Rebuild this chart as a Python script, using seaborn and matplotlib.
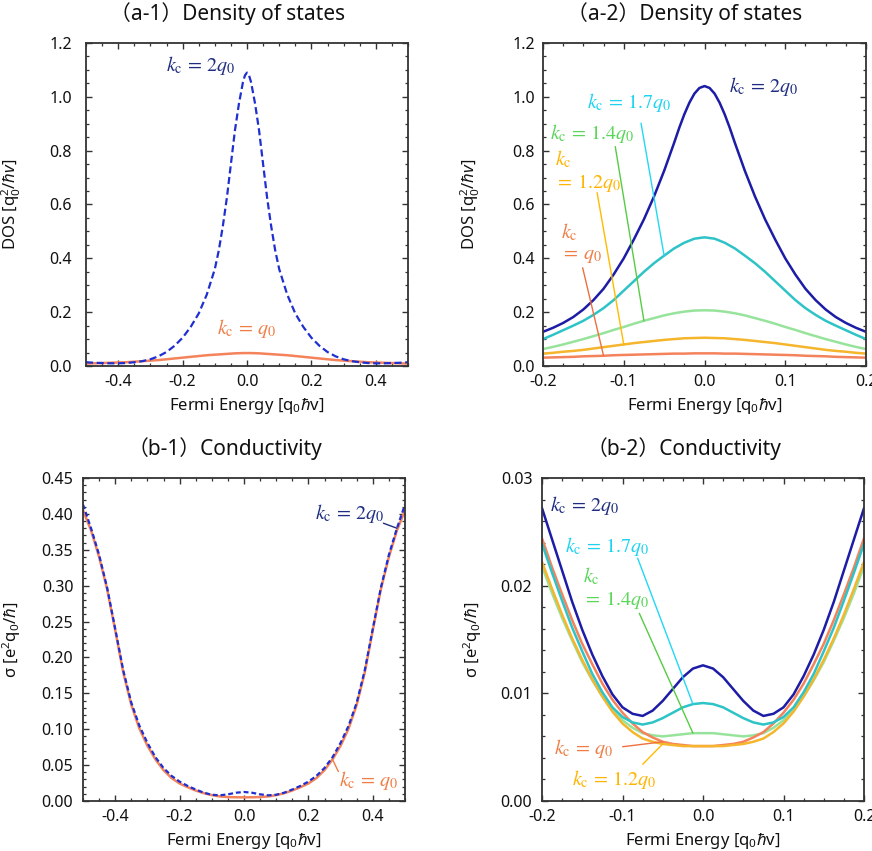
import matplotlib
matplotlib.use("Agg")
import matplotlib.pyplot as plt
from matplotlib.ticker import MultipleLocator, FormatStrFormatter
import numpy as np
import pandas as pd
import seaborn as sns

# ---------------- data ----------------
# (a-1) Density of states, wide range
E_A1 = [-0.5, -0.475, -0.45, -0.425, -0.4, -0.375, -0.35, -0.325, -0.3, -0.275,
        -0.25, -0.225, -0.2, -0.175, -0.15, -0.125, -0.1, -0.0875, -0.075, -0.0625,
        -0.05, -0.0375, -0.025, -0.0125, -0.00625, 0.0, 0.00625,
        0.0125, 0.025, 0.0375, 0.05, 0.0625, 0.075, 0.0875, 0.1, 0.125, 0.15,
        0.175, 0.2, 0.225, 0.25, 0.275, 0.3, 0.325, 0.35, 0.375, 0.4,
        0.425, 0.45, 0.475, 0.5]
DOS_A1_KC2 = [0.014, 0.012, 0.011, 0.010, 0.010, 0.011, 0.014, 0.018, 0.025, 0.036,
              0.052, 0.075, 0.105, 0.145, 0.195, 0.265, 0.36, 0.43, 0.52, 0.625,
              0.75, 0.875, 0.975, 1.055, 1.080, 1.09, 1.080,
              1.055, 0.975, 0.875, 0.75, 0.625, 0.52, 0.43, 0.36, 0.265, 0.195,
              0.145, 0.105, 0.075, 0.052, 0.036, 0.025, 0.018, 0.014, 0.011, 0.010,
              0.010, 0.011, 0.012, 0.014]
DOS_A1_KC1 = [0.009, 0.010, 0.011, 0.012, 0.013, 0.014, 0.016, 0.018, 0.020, 0.022,
              0.025, 0.028, 0.031, 0.034, 0.037, 0.040, 0.042, 0.043, 0.044, 0.045,
              0.046, 0.047, 0.0475, 0.048, 0.048, 0.048, 0.048,
              0.048, 0.0475, 0.047, 0.046, 0.045, 0.044, 0.043, 0.042, 0.040, 0.037,
              0.034, 0.031, 0.028, 0.025, 0.022, 0.020, 0.018, 0.016, 0.014, 0.013,
              0.012, 0.011, 0.010, 0.009]

# (a-2) Density of states, narrow range
E_A2 = [-0.2, -0.1875, -0.175, -0.1625, -0.15, -0.1375, -0.125, -0.1125, -0.1, -0.0875,
        -0.075, -0.0625, -0.05, -0.0375, -0.025, -0.0125, 0.0,
        0.0125, 0.025, 0.0375, 0.05, 0.0625, 0.075, 0.0875, 0.1, 0.1125,
        0.125, 0.1375, 0.15, 0.1625, 0.175, 0.1875, 0.2]
E_A2_KC20 = [-0.2, -0.1875, -0.175, -0.1625, -0.15, -0.1375, -0.125, -0.1125, -0.1, -0.0875,
             -0.075, -0.0625, -0.05, -0.0375, -0.03125, -0.025, -0.01875, -0.0125, -0.00625, 0.0,
             0.00625, 0.0125, 0.01875, 0.025, 0.03125, 0.0375, 0.05, 0.0625, 0.075, 0.0875,
             0.1, 0.1125, 0.125, 0.1375, 0.15, 0.1625, 0.175, 0.1875, 0.2]
DOS_KC20 = [0.127, 0.142, 0.160, 0.182, 0.210, 0.245, 0.287, 0.340, 0.400, 0.470,
            0.545, 0.630, 0.725, 0.830, 0.885, 0.935, 0.978, 1.012, 1.033, 1.040,
            1.033, 1.012, 0.978, 0.935, 0.885, 0.830, 0.725, 0.630, 0.545, 0.470,
            0.400, 0.340, 0.287, 0.245, 0.210, 0.182, 0.160, 0.142, 0.127]
DOS_KC17 = [0.100, 0.116, 0.133, 0.150, 0.168, 0.190, 0.215, 0.245, 0.280, 0.315,
            0.350, 0.382, 0.410, 0.437, 0.458, 0.473, 0.478,
            0.473, 0.458, 0.437, 0.410, 0.382, 0.350, 0.315, 0.280, 0.245,
            0.215, 0.190, 0.168, 0.150, 0.133, 0.116, 0.100]
DOS_KC14 = [0.063, 0.071, 0.080, 0.090, 0.100, 0.111, 0.122, 0.134, 0.145, 0.157,
            0.168, 0.178, 0.188, 0.196, 0.202, 0.206, 0.207,
            0.206, 0.202, 0.196, 0.188, 0.178, 0.168, 0.157, 0.145, 0.134,
            0.122, 0.111, 0.100, 0.090, 0.080, 0.071, 0.063]
DOS_KC12 = [0.046, 0.049, 0.053, 0.056, 0.060, 0.065, 0.070, 0.075, 0.080, 0.085,
            0.089, 0.093, 0.097, 0.100, 0.103, 0.104, 0.105,
            0.104, 0.103, 0.100, 0.097, 0.093, 0.089, 0.085, 0.080, 0.075,
            0.070, 0.065, 0.060, 0.056, 0.053, 0.049, 0.046]
DOS_KC10 = [0.031, 0.032, 0.033, 0.034, 0.036, 0.037, 0.038, 0.040, 0.041, 0.042,
            0.043, 0.044, 0.045, 0.046, 0.046, 0.047, 0.047,
            0.047, 0.046, 0.046, 0.045, 0.044, 0.043, 0.042, 0.041, 0.040,
            0.038, 0.037, 0.036, 0.034, 0.033, 0.032, 0.031]

# (b-1) Conductivity, wide range
E_B1 = [-0.5, -0.475, -0.45, -0.425, -0.4, -0.375, -0.35, -0.325, -0.3, -0.275,
        -0.25, -0.225, -0.2, -0.175, -0.15, -0.125, -0.1, -0.075, -0.05, -0.025, 0.0,
        0.025, 0.05, 0.075, 0.1, 0.125, 0.15, 0.175, 0.2, 0.225, 0.25,
        0.275, 0.3, 0.325, 0.35, 0.375, 0.4, 0.425, 0.45, 0.475, 0.5]
SIG_B1_KC2 = [0.413, 0.380, 0.343, 0.297, 0.240, 0.182, 0.137, 0.105, 0.081, 0.061,
              0.046, 0.035, 0.027, 0.021, 0.016, 0.0116, 0.0087, 0.0079, 0.0093, 0.0115, 0.0126,
              0.0115, 0.0093, 0.0079, 0.0087, 0.0116, 0.016, 0.021, 0.027, 0.035, 0.046,
              0.061, 0.081, 0.105, 0.137, 0.182, 0.240, 0.297, 0.343, 0.380, 0.413]
SIG_B1_KC1 = [0.405, 0.377, 0.340, 0.295, 0.238, 0.179, 0.134, 0.101, 0.077, 0.058,
              0.043, 0.032, 0.0244, 0.0192, 0.0146, 0.0109, 0.0082, 0.0064, 0.0055, 0.0052, 0.0051,
              0.0052, 0.0055, 0.0064, 0.0082, 0.0109, 0.0146, 0.0192, 0.0244, 0.032, 0.043,
              0.058, 0.077, 0.101, 0.134, 0.179, 0.238, 0.295, 0.340, 0.377, 0.405]

# (b-2) Conductivity, narrow range
E_B2 = E_A2
SIG_KC20 = [0.0272, 0.0243, 0.0214, 0.0185, 0.0159, 0.0136, 0.0116, 0.0099, 0.0087, 0.0081,
            0.0079, 0.0084, 0.0093, 0.0104, 0.0115, 0.0123, 0.0126,
            0.0123, 0.0115, 0.0104, 0.0093, 0.0084, 0.0079, 0.0081, 0.0087, 0.0099,
            0.0116, 0.0136, 0.0159, 0.0185, 0.0214, 0.0243, 0.0272]
SIG_KC17 = [0.0239, 0.0212, 0.0186, 0.0161, 0.0139, 0.0118, 0.0101, 0.0087, 0.0078, 0.0073,
            0.0071, 0.0073, 0.0077, 0.0082, 0.0087, 0.0090, 0.0091,
            0.0090, 0.0087, 0.0082, 0.0077, 0.0073, 0.0071, 0.0073, 0.0078, 0.0087,
            0.0101, 0.0118, 0.0139, 0.0161, 0.0186, 0.0212, 0.0239]
SIG_KC14 = [0.0218, 0.0193, 0.0170, 0.0149, 0.0129, 0.0112, 0.0097, 0.0084, 0.0075, 0.0068,
            0.0063, 0.0061, 0.0060, 0.0061, 0.0062, 0.0063, 0.0063,
            0.0063, 0.0062, 0.0061, 0.0060, 0.0061, 0.0063, 0.0068, 0.0075, 0.0084,
            0.0097, 0.0112, 0.0129, 0.0149, 0.0170, 0.0193, 0.0218]
SIG_KC12 = [0.0222, 0.0197, 0.0173, 0.0151, 0.0131, 0.0113, 0.0097, 0.0083, 0.0072, 0.0064,
            0.0058, 0.0055, 0.0053, 0.0052, 0.0051, 0.0051, 0.0051,
            0.0051, 0.0051, 0.0052, 0.0053, 0.0055, 0.0058, 0.0064, 0.0072, 0.0083,
            0.0097, 0.0113, 0.0131, 0.0151, 0.0173, 0.0197, 0.0222]
SIG_KC10 = [0.0244, 0.0217, 0.0192, 0.0168, 0.0146, 0.0127, 0.0109, 0.0094, 0.0082, 0.0072,
            0.0064, 0.0059, 0.0055, 0.0053, 0.0052, 0.0051, 0.0051,
            0.0051, 0.0052, 0.0053, 0.0055, 0.0059, 0.0064, 0.0072, 0.0082, 0.0094,
            0.0109, 0.0127, 0.0146, 0.0168, 0.0192, 0.0217, 0.0244]

TITLES = ["（a-1）Density of states", "（a-2）Density of states",
          "（b-1）Conductivity", "（b-2）Conductivity"]

# ---------------- style ----------------
sns.set_style("ticks")
plt.rcParams["font.family"] = ["Noto Sans", "Noto Sans CJK JP", "DejaVu Sans"]
plt.rcParams["axes.unicode_minus"] = False
plt.rcParams["mathtext.fontset"] = "custom"
plt.rcParams["mathtext.rm"] = "Noto Sans"
plt.rcParams["mathtext.it"] = "Noto Sans:italic"
plt.rcParams["mathtext.bf"] = "Noto Sans:bold"

NAVY_DASH = "#1f2fd0"
NAVY = "#1c1ca6"
NAVY_T = "#1f2d80"
CYAN = "#2ec3c6"
CYAN_T = "#1ed3f0"
GREEN = "#98e39c"
GREEN_T = "#5ad65a"
YEL = "#f5b52c"
YEL_T = "#ffb400"
ORA = "#f4835c"
ORA_T = "#f07d45"

TICK_FS = 11.5
LAB_FS = 12
ANN_FS = 14.5
TITLE_FS = 15

fig = plt.figure(figsize=(8.72, 8.51), dpi=100)
W, H = 872.0, 851.0


def make_ax(l, t, r, b):
    return fig.add_axes([l / W, 1 - b / H, (r - l) / W, (b - t) / H])


ax1 = make_ax(86, 43, 408, 366)
ax2 = make_ax(543, 43, 866, 366)
ax3 = make_ax(83, 478, 405, 801)
ax4 = make_ax(542, 478, 864, 801)


def curve(ax, x, y, color, lw=1.8, ls="-"):
    df = pd.DataFrame({"E": x, "v": y})
    sns.lineplot(data=df, x="E", y="v", ax=ax, color=color, lw=lw,
                 estimator=None, sort=False, linestyle=ls)


def label(ax, x, y, s, color, ha="center", va="center"):
    ax.text(x, y, s, color=color, fontsize=ANN_FS, ha=ha, va=va,
            math_fontfamily="stix", multialignment="left", linespacing=1.1)


def leader(ax, start, xs, ys, idx, color):
    ax.annotate("", xy=(xs[idx], ys[idx]), xytext=start,
                arrowprops=dict(arrowstyle="-", color=color, lw=1.0,
                                shrinkA=0, shrinkB=0))


def style(ax, xlim, ylim, xmaj, xmin, ymaj, ymin, xfmt, yfmt, ypad, ylab, ylab_x):
    ax.set_xlim(*xlim)
    ax.set_ylim(*ylim)
    ax.xaxis.set_major_locator(MultipleLocator(xmaj))
    ax.xaxis.set_minor_locator(MultipleLocator(xmin))
    ax.yaxis.set_major_locator(MultipleLocator(ymaj))
    ax.yaxis.set_minor_locator(MultipleLocator(ymin))
    ax.xaxis.set_major_formatter(FormatStrFormatter(xfmt))
    ax.yaxis.set_major_formatter(FormatStrFormatter(yfmt))
    ax.tick_params(which="both", direction="in", top=True, right=True,
                   color="#333333", labelsize=TICK_FS, labelcolor="#111111")
    ax.tick_params(axis="y", which="major", pad=ypad)
    ax.tick_params(axis="x", which="major", pad=6)
    ax.tick_params(which="major", length=4.5, width=1.0)
    ax.tick_params(which="minor", length=2.5, width=0.9)
    for sp in ax.spines.values():
        sp.set_visible(True)
        sp.set_color("#333333")
        sp.set_linewidth(1.3)
    ax.set_xlabel("Fermi Energy [q$_0$$\\hbar$v]", fontsize=LAB_FS, color="#111111")
    ax.xaxis.set_label_coords(0.5, -0.092)
    ax.set_ylabel(ylab, fontsize=LAB_FS, color="#111111")
    ax.yaxis.set_label_coords(ylab_x, 0.5)
    ax.grid(False)


DOS_LAB = "DOS [q$_0^2$/$\\hbar$$\\mathit{v}$]"
SIG_LAB = "σ [e$^2$q$_0$/$\\hbar$]"

# ---------------- (a-1) ----------------
curve(ax1, E_A1, DOS_A1_KC1, ORA)
curve(ax1, E_A1, DOS_A1_KC2, NAVY_DASH, lw=1.6, ls=(0, (3.2, 1.6)))
style(ax1, (-0.5, 0.5), (0, 1.2), 0.2, 0.05, 0.2, 0.05, "%.1f", "%.1f", 10,
      DOS_LAB, -0.197)
label(ax1, -0.144, 1.118, r"$k_\mathrm{c}\,=\,2q_0$", NAVY_T)
label(ax1, 0.0, 0.139, r"$k_\mathrm{c}\,=\,q_0$", ORA_T)

# ---------------- (a-2) ----------------
curve(ax2, E_A2, DOS_KC10, ORA)
curve(ax2, E_A2, DOS_KC12, YEL)
curve(ax2, E_A2, DOS_KC14, GREEN)
curve(ax2, E_A2, DOS_KC17, CYAN)
curve(ax2, E_A2_KC20, DOS_KC20, NAVY)
style(ax2, (-0.2, 0.2), (0, 1.2), 0.1, 0.025, 0.2, 0.05, "%.1f", "%.1f", 6,
      DOS_LAB, -0.19)
label(ax2, 0.0737, 1.04, r"$k_\mathrm{c}\,=\,2q_0$", NAVY_T)
label(ax2, -0.0935, 0.979, r"$k_\mathrm{c}\,=\,1.7q_0$", CYAN_T)
label(ax2, -0.1385, 0.864, r"$k_\mathrm{c}\,=\,1.4q_0$", GREEN_T)
label(ax2, -0.185, 0.725, "$k_\\mathrm{c}$\n$=\\,1.2q_0$", YEL_T, ha="left")
label(ax2, -0.178, 0.456, "$k_\\mathrm{c}$\n$=\\,q_0$", ORA_T, ha="left")
leader(ax2, (-0.0786, 0.902), E_A2, DOS_KC17, 12, "#22d8f5")
leader(ax2, (-0.1105, 0.815), E_A2, DOS_KC14, 10, "#55cc44")
leader(ax2, (-0.133, 0.644), E_A2, DOS_KC12, 8, "#ffbb00")
leader(ax2, (-0.1509, 0.365), E_A2, DOS_KC10, 6, "#ee7040")

# ---------------- (b-1) ----------------
curve(ax3, E_B1, SIG_B1_KC1, ORA)
curve(ax3, E_B1, SIG_B1_KC2, NAVY_DASH, lw=1.6, ls=(0, (2.2, 1.3)))
style(ax3, (-0.5, 0.5), (0, 0.45), 0.2, 0.05, 0.05, 0.01, "%.1f", "%.2f", 7,
      SIG_LAB, -0.187)
label(ax3, 0.329, 0.401, r"$k_\mathrm{c}\,=\,2q_0$", NAVY_T)
label(ax3, 0.388, 0.029, r"$k_\mathrm{c}\,=\,q_0$", ORA_T)
leader(ax3, (0.433, 0.387), E_B1, SIG_B1_KC2, 39, NAVY_T)
leader(ax3, (0.293, 0.041), E_B1, SIG_B1_KC1, 31, ORA_T)

# ---------------- (b-2) ----------------
curve(ax4, E_B2, SIG_KC14, GREEN)
curve(ax4, E_B2, SIG_KC10, ORA)
curve(ax4, E_B2, SIG_KC12, YEL)
curve(ax4, E_B2, SIG_KC17, CYAN)
curve(ax4, E_B2, SIG_KC20, NAVY)
style(ax4, (-0.2, 0.2), (0, 0.03), 0.1, 0.025, 0.01, 0.002, "%.1f", "%.2f", 7,
      SIG_LAB, -0.181)
label(ax4, -0.1466, 0.0274, r"$k_\mathrm{c}\,=\,2q_0$", NAVY_T)
label(ax4, -0.1184, 0.02368, r"$k_\mathrm{c}\,=\,1.7q_0$", CYAN_T)
label(ax4, -0.1494, 0.01974, "$k_\\mathrm{c}$\n$=\\,1.4q_0$", GREEN_T, ha="left")
label(ax4, -0.1484, 0.00489, r"$k_\mathrm{c}\,=\,q_0$", ORA_T)
label(ax4, -0.1102, 0.00204, r"$k_\mathrm{c}\,=\,1.2q_0$", YEL_T)
leader(ax4, (-0.0811, 0.02254), E_B2, SIG_KC17, 15, "#22d8f5")
leader(ax4, (-0.0791, 0.01743), E_B2, SIG_KC14, 15, "#55cc44")
leader(ax4, (-0.0998, 0.00504), E_B2, SIG_KC10, 12, "#ee7040")
leader(ax4, (-0.0749, 0.00341), E_B2, SIG_KC12, 12, "#ffbb00")

for ax, t in zip([ax1, ax2, ax3, ax4], TITLES):
    ax.text(0.44, 1.09, t, transform=ax.transAxes, ha="center", va="center",
            fontsize=TITLE_FS, color="#111111")

fig.savefig("out.png", dpi=100)
